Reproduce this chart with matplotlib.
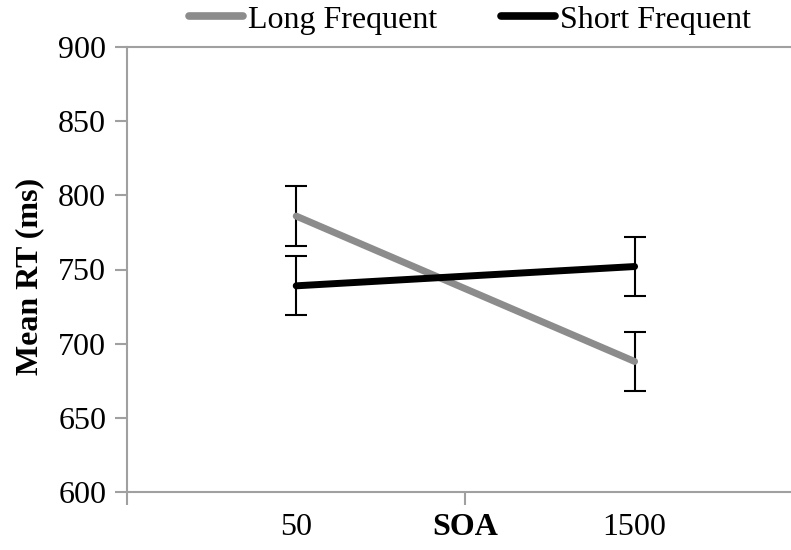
import matplotlib
matplotlib.use("Agg")
import matplotlib.pyplot as plt
from matplotlib.lines import Line2D
from matplotlib.transforms import blended_transform_factory, offset_copy

categories = ["50", "1500"]
long_freq = [786, 688]
long_err = [20, 20]
short_freq = [739, 752]
short_err = [20, 20]
yticks = [600, 650, 700, 750, 800, 850, 900]

plt.rcParams['font.family'] = ['Liberation Serif', 'DejaVu Serif']
FS = 23

fig = plt.figure(figsize=(7.91, 5.50), dpi=100)
ax = fig.add_axes([127/791, 1-492/550, 1-127/791, (492-47)/550])

xpos = [0.5, 1.5]
gray = '#8c8c8c'
axis_gray = '#a0a0a0'

ax.errorbar(xpos, long_freq, yerr=long_err, fmt='none', ecolor='black',
            elinewidth=1.5, capsize=8, capthick=1.5, zorder=2)
ax.errorbar(xpos, short_freq, yerr=short_err, fmt='none', ecolor='black',
            elinewidth=1.5, capsize=8, capthick=1.5, zorder=2)
ax.plot(xpos, long_freq, color=gray, lw=5, solid_capstyle='round', zorder=3)
ax.plot(xpos, short_freq, color='black', lw=5, solid_capstyle='round', zorder=4)

ax.set_ylim(600, 900)
ax.set_xlim(0, 664/338.4)
ax.set_yticks(yticks)
ax.set_yticklabels([str(t) for t in yticks], fontsize=FS)
ax.tick_params(axis='y', direction='out', length=9, width=1.5, color=axis_gray, pad=6)

ax.set_xticks([0, 1])
ax.set_xticklabels([])
ax.tick_params(axis='x', which='major', direction='out', length=9, width=1.5, color=axis_gray)
ax.set_xticks(xpos, minor=True)
ax.set_xticklabels(categories, minor=True, fontsize=FS)
PAD = 15
ax.tick_params(axis='x', which='minor', length=0, pad=PAD)

trans = offset_copy(blended_transform_factory(ax.transData, ax.transAxes),
                    fig=fig, x=0, y=-PAD, units='points')
ax.text(1, 0, "SOA", transform=trans, ha='center', va='top',
        fontsize=FS, fontweight='bold')

ax.set_ylabel("Mean RT (ms)", fontsize=FS, fontweight='bold', labelpad=10)
ax.yaxis.label.set_y(0.485)

ax.spines['right'].set_visible(False)
for s in ['left', 'bottom', 'top']:
    ax.spines[s].set_color(axis_gray)
    ax.spines[s].set_linewidth(1.5)

handles = [Line2D([], [], color=gray, lw=5.5, solid_capstyle='round'),
           Line2D([], [], color='black', lw=5.5, solid_capstyle='round')]
fig.legend(handles, ["Long Frequent", "Short Frequent"], loc='center',
           bbox_to_anchor=(470/791, 1-20/550), ncol=2, frameon=False,
           fontsize=FS, handlelength=1.7, handletextpad=0.15,
           columnspacing=2.0, borderpad=0, borderaxespad=0)

fig.savefig("out.png", dpi=100)
